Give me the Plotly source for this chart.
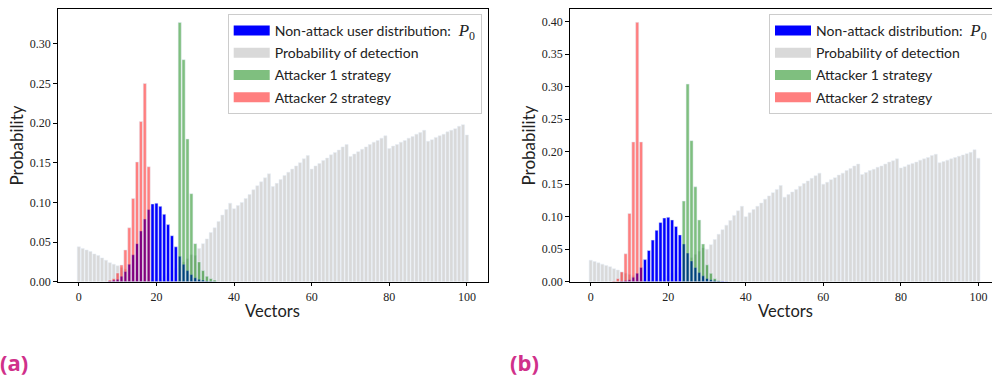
import plotly.graph_objects as go

W, H = 992, 380

# ---------------- data ----------------
vectors = list(range(0, 101))

# Non-attack distribution P0 (same in both panels), support 8..35
p0_x = list(range(8, 36))
p0_vals = [0.001, 0.002, 0.003, 0.007, 0.013, 0.022, 0.034, 0.048, 0.064, 0.079,
           0.091, 0.098, 0.099, 0.095, 0.085, 0.072, 0.058, 0.044, 0.032, 0.022,
           0.014, 0.009, 0.005, 0.003, 0.002, 0.001, 0.0005, 0.0003]

# Panel (a)
detect_a = [0.044, 0.042, 0.040, 0.038, 0.035, 0.033, 0.030, 0.027, 0.024, 0.022,
            0.020, 0.018, 0.016, 0.014, 0.012, 0.010, 0.008, 0.006, 0.004, 0.003,
            0.002, 0.004, 0.007, 0.010, 0.014, 0.017, 0.021, 0.025, 0.029, 0.034,
            0.033, 0.042, 0.048, 0.054, 0.062, 0.068, 0.076, 0.084, 0.091, 0.099,
            0.092, 0.096, 0.100, 0.105, 0.110, 0.116, 0.121, 0.126, 0.131, 0.136,
            0.120, 0.124, 0.129, 0.134, 0.138, 0.142, 0.146, 0.150, 0.155, 0.159,
            0.142, 0.146, 0.149, 0.153, 0.156, 0.160, 0.163, 0.166, 0.170, 0.173,
            0.158, 0.161, 0.164, 0.167, 0.170, 0.173, 0.176, 0.178, 0.181, 0.184,
            0.168, 0.171, 0.173, 0.176, 0.178, 0.181, 0.183, 0.186, 0.188, 0.191,
            0.177, 0.179, 0.182, 0.184, 0.186, 0.189, 0.191, 0.193, 0.196, 0.198,
            0.185]
att1_a_x = list(range(26, 36))
att1_a = [0.327, 0.280, 0.180, 0.111, 0.048, 0.025, 0.014, 0.007, 0.004, 0.002]
att2_a_x = list(range(8, 19))
att2_a = [0.002, 0.004, 0.011, 0.021, 0.040, 0.068, 0.105, 0.151, 0.202, 0.250, 0.145]

# Panel (b)
detect_b = [0.033, 0.031, 0.029, 0.027, 0.025, 0.023, 0.020, 0.018, 0.015, 0.013,
            0.011, 0.009, 0.007, 0.005, 0.003, 0.002, 0.001, 0.002, 0.004, 0.006,
            0.009, 0.013, 0.017, 0.022, 0.027, 0.032, 0.037, 0.042, 0.047, 0.052,
            0.050, 0.057, 0.065, 0.073, 0.080, 0.087, 0.094, 0.102, 0.109, 0.116,
            0.100, 0.106, 0.111, 0.116, 0.121, 0.127, 0.132, 0.137, 0.142, 0.148,
            0.130, 0.134, 0.138, 0.142, 0.147, 0.151, 0.155, 0.159, 0.163, 0.167,
            0.150, 0.153, 0.157, 0.160, 0.164, 0.167, 0.171, 0.174, 0.178, 0.181,
            0.165, 0.168, 0.171, 0.173, 0.176, 0.178, 0.181, 0.184, 0.186, 0.189,
            0.175, 0.177, 0.180, 0.182, 0.184, 0.187, 0.189, 0.191, 0.194, 0.196,
            0.183, 0.185, 0.187, 0.189, 0.191, 0.193, 0.195, 0.197, 0.199, 0.203,
            0.190]
att1_b_x = list(range(24, 34))
att1_b = [0.124, 0.304, 0.217, 0.146, 0.095, 0.058, 0.026, 0.013, 0.005, 0.002]
att2_b_x = list(range(6, 14))
att2_b = [0.001, 0.005, 0.015, 0.043, 0.105, 0.215, 0.399, 0.215]

x_ticks = [0, 20, 40, 60, 80, 100]
y_ticks_a = [0.0, 0.05, 0.10, 0.15, 0.20, 0.25, 0.30]
y_ticks_b = [0.0, 0.05, 0.10, 0.15, 0.20, 0.25, 0.30, 0.35, 0.40]

names_a = ["Non-attack user distribution: ", "Probability of detection",
           "Attacker 1 strategy", "Attacker 2 strategy"]
names_b = ["Non-attack distribution: ", "Probability of detection",
           "Attacker 1 strategy", "Attacker 2 strategy"]

# ---------------- styles ----------------
C_BLUE = "#0000ff"
C_GREY = "#d9d9d9"
C_GREEN = "rgba(0,128,0,0.5)"
C_RED = "rgba(255,0,0,0.5)"
SANS = "Lato"
SERIF = "Liberation Serif"
P0 = ("<span style=\"font-family:'Liberation Serif';font-size:17px\"> <i>P</i>"
      "<sub>0</sub></span>")

fig = go.Figure()

def add_panel(xa, ya, detect, att1_x, att1, att2_x, att2):
    fig.add_trace(go.Bar(x=vectors, y=detect, marker_color=C_GREY, width=0.8,
                         showlegend=False, xaxis=xa, yaxis=ya))
    fig.add_trace(go.Bar(x=p0_x, y=p0_vals, marker_color=C_BLUE, width=0.8,
                         showlegend=False, xaxis=xa, yaxis=ya))
    fig.add_trace(go.Bar(x=att1_x, y=att1, marker_color=C_GREEN, width=0.8,
                         showlegend=False, xaxis=xa, yaxis=ya))
    fig.add_trace(go.Bar(x=att2_x, y=att2, marker_color=C_RED, width=0.8,
                         showlegend=False, xaxis=xa, yaxis=ya))

add_panel("x", "y", detect_a, att1_a_x, att1_a, att2_a_x, att2_a)
add_panel("x2", "y2", detect_b, att1_b_x, att1_b, att2_b_x, att2_b)

# legend proxies
for leg, names in (("legend", names_a), ("legend2", names_b)):
    cols = [C_BLUE, C_GREY, C_GREEN, C_RED]
    for i, (nm, c) in enumerate(zip(names, cols)):
        label = nm + P0 if i == 0 else nm
        fig.add_trace(go.Scatter(x=[None], y=[None], mode="lines",
                                 line=dict(color=c, width=10), name=label,
                                 legend=leg, legendgroup=f"{leg}{i}",
                                 xaxis="x" if leg == "legend" else "x2",
                                 yaxis="y" if leg == "legend" else "y2"))

y_bot = 1 - 281.7 / H
y_top = 1 - 9 / H

axis_common = dict(showline=True, linecolor="#000", linewidth=1, ticks="outside",
                   ticklen=3.5, tickwidth=0.8, tickcolor="#000", showgrid=False,
                   zeroline=False, automargin=False,
                   tickfont=dict(family=SERIF, size=12, color="#222"))

legend_common = dict(yanchor="top", xanchor="left", bgcolor="rgba(255,255,255,0.8)",
                     bordercolor="#cccccc", borderwidth=1, itemwidth=36,
                     font=dict(family=SANS, size=14, color="#222"), tracegroupgap=1)

fig.update_layout(
    width=W, height=H, margin=dict(l=0, r=0, t=0, b=0, autoexpand=False),
    paper_bgcolor="white", plot_bgcolor="white", barmode="overlay",
    xaxis=dict(domain=[57.7 / W, 488 / W], range=[-5.44, 105.44], tickvals=x_ticks,
               mirror=True, anchor="y", **axis_common),
    yaxis=dict(domain=[y_bot, y_top], range=[0, 0.3439], tickvals=y_ticks_a,
               tickformat=".2f", mirror=True, anchor="x", **axis_common),
    xaxis2=dict(domain=[569.6 / W, 1.0], range=[-5.44, 103.5], tickvals=x_ticks,
                mirror=True, anchor="y2", **axis_common),
    yaxis2=dict(domain=[y_bot, y_top], range=[0, 0.4195], tickvals=y_ticks_b,
                tickformat=".2f", mirror=False, anchor="x2", **axis_common),
    legend=dict(x=227.7 / W, y=1 - 14 / H, **legend_common),
    legend2=dict(x=769 / W, y=1 - 14 / H, **legend_common),
)

def ann(text, px, py, angle=0, size=16, color="#222", bold=False, family=SANS):
    fig.add_annotation(text=f"<b>{text}</b>" if bold else text, x=px / W, y=1 - py / H,
                       xref="paper", yref="paper", showarrow=False, textangle=angle,
                       xanchor="center", yanchor="middle",
                       font=dict(family=family, size=size, color=color))

ann("Probability", 16, 145.5, angle=-90, size=17)
ann("Probability", 528, 145.5, angle=-90, size=17)
ann("Vectors", 272.8, 311, size=16.5)
ann("Vectors", 785, 311, size=16.5)
ann("(a)", 13.5, 362, size=22, color="#d0308a", bold=True, family="Open Sans")
ann("(b)", 524, 362, size=22, color="#d0308a", bold=True, family="Open Sans")

fig.write_html("out.html")
